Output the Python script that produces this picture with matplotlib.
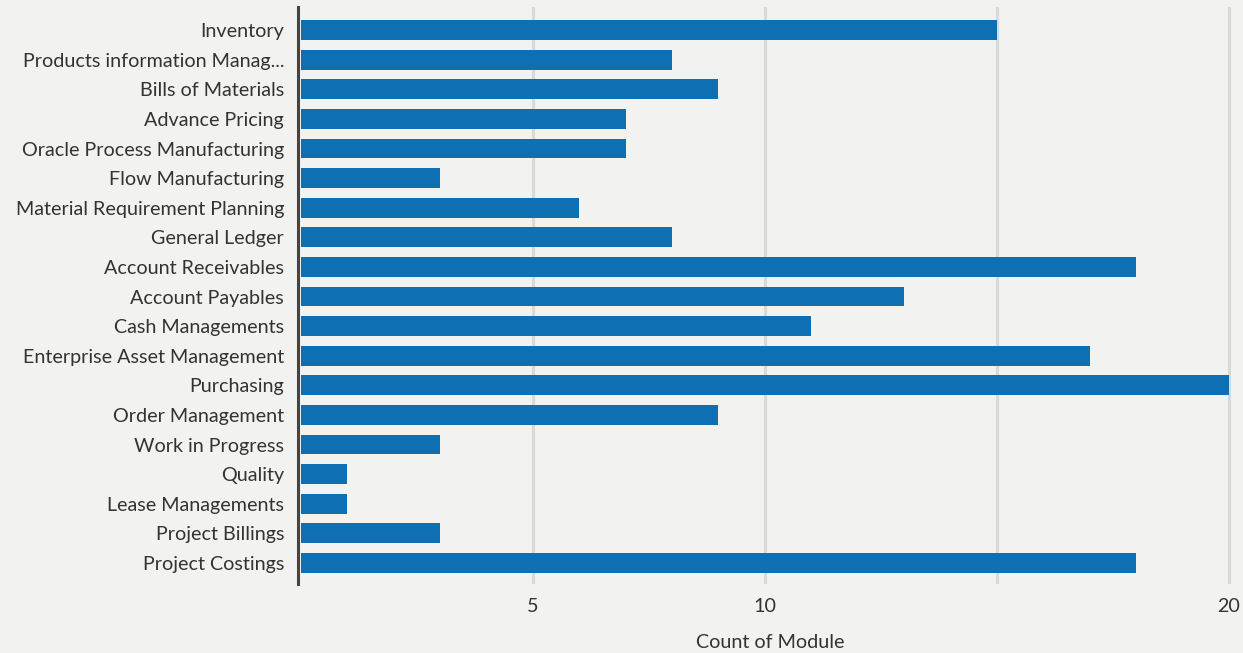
import matplotlib
matplotlib.use("Agg")
import matplotlib.pyplot as plt

categories = ["Inventory", "Products information Manag...", "Bills of Materials", "Advance Pricing",
              "Oracle Process Manufacturing", "Flow Manufacturing", "Material Requirement Planning",
              "General Ledger", "Account Receivables", "Account Payables", "Cash Managements",
              "Enterprise Asset Management", "Purchasing", "Order Management", "Work in Progress",
              "Quality", "Lease Managements", "Project Billings", "Project Costings"]
values = [15, 8, 9, 7, 7, 3, 6, 8, 18, 13, 11, 17, 20, 9, 3, 1, 1, 3, 18]
x_ticks = [5, 10, 20]
grid_at = [5, 10, 15, 20]

plt.rcParams['font.family'] = ['Lato', 'DejaVu Sans']
bg = "#f2f2f0"
fig = plt.figure(figsize=(12.43, 6.53), dpi=100, facecolor=bg)
W, H = 1243, 653
ax = fig.add_axes([298 / W, 1 - 584 / H, (W - 298) / W, (584 - 7) / H])
ax.set_facecolor(bg)

for g in grid_at:
    ax.axvline(g, color="#d9d9d9", lw=2.2, zorder=0)

ypos = list(range(len(categories)))
ax.barh(ypos, values, height=0.67, color="#0f6fb3", zorder=2)
ax.set_ylim(18.71, -0.78)
ax.set_xlim(-0.06, (W - 301) / 46.4)
ax.set_yticks(ypos)
ax.set_yticklabels(categories, fontsize=14.2, color="#333333")
ax.set_xticks(x_ticks)
ax.set_xticklabels([str(t) for t in x_ticks], fontsize=14.2, color="#333333")
ax.tick_params(axis="both", length=0)
ax.tick_params(axis="y", pad=10)
ax.tick_params(axis="x", pad=10)
ax.set_xlabel("Count of Module", fontsize=14.2, color="#333333", labelpad=14)

for s in ["top", "right", "bottom"]:
    ax.spines[s].set_visible(False)
ax.spines["left"].set_color("#444444")
ax.spines["left"].set_linewidth(2.2)

fig.savefig("out.png", dpi=100, facecolor=bg)
